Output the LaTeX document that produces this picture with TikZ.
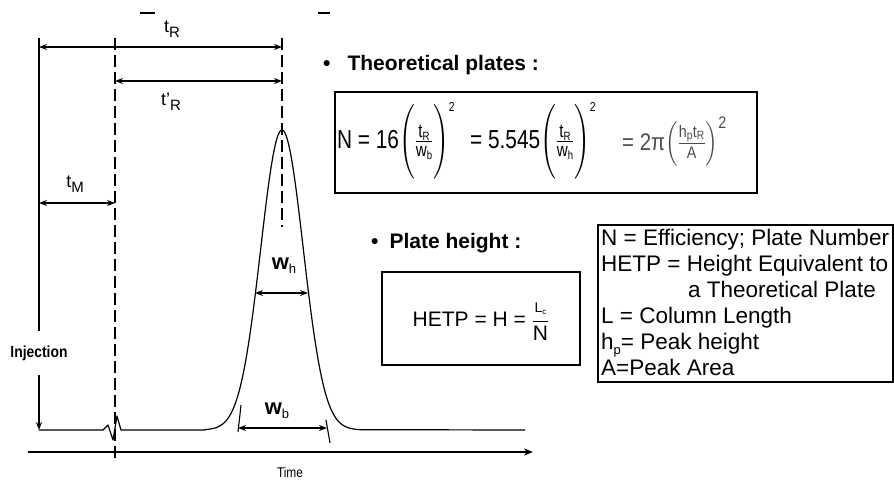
\documentclass[tikz,border=0pt]{standalone}
\usepackage{fontspec}
\setmainfont{Liberation Sans}
\usepackage{amsmath}
\usetikzlibrary{arrows.meta, positioning, calc}
\tikzset{
  dimarr/.style={{Stealth[length=8pt,width=6pt]}-{Stealth[length=8pt,width=6pt]}, line width=1.2pt},
  axisarr/.style={-{Stealth[length=9pt,width=7pt]}, line width=1.8pt},
  trace/.style={line width=1.2pt, line join=round},
  guide/.style={line width=1.1pt},
  dashguide/.style={line width=1.3pt, dash pattern=on 12pt off 5pt},
  tlbl/.style={inner sep=0pt, font=\fontsize{18}{18}\selectfont},
  wlbl/.style={inner sep=0pt, font=\fontsize{22}{22}\selectfont\bfseries},
  head/.style={inner sep=0pt, anchor=base west, font=\fontsize{21}{21}\selectfont\bfseries},
  eqbox/.style={draw, line width=1.5pt, inner sep=0pt},
  eqtxt/.style={inner sep=0pt, anchor=base west, font=\fontsize{26}{30}\selectfont},
  keytxt/.style={inner sep=0pt, anchor=base west, font=\fontsize{22.5}{26}\selectfont},
}
\newcommand{\tsub}[2]{#1\raisebox{-5pt}{\fontsize{15}{15}\selectfont #2}}
\newcommand{\wsub}[2]{#1\raisebox{-4pt}{\fontsize{13}{13}\selectfont\mdseries #2}}
\newcommand{\fpart}[2]{\text{\fontsize{19}{19}\selectfont #1\raisebox{-3pt}{\fontsize{12}{12}\selectfont #2}}}

\begin{document}
\begin{tikzpicture}[x=1pt, y=-1pt]
  \useasboundingbox (0,0) rectangle (894,480);
  %% Chromatogram
  \coordinate (inj0) at (39,38);
  \coordinate (inj1) at (39,430);
  \coordinate (tm0)  at (115,38);
  \coordinate (tm1)  at (115,458);
  \coordinate (pk0)  at (282,38);
  \coordinate (pk1)  at (282,227);
  \coordinate (base1) at (525,430);
  \coordinate (ax0) at (28,452);
  \coordinate (ax1) at (533,452);
  \node[inner ysep=14pt, inner xsep=0pt, font=\fontsize{16}{16}\selectfont\bfseries]
    (injtxt) at (39,353) {\scalebox{0.87}[1]{Injection}};
  \draw[guide] (inj0) -- (injtxt.north);
  \draw[guide, -{Stealth[length=8pt,width=6pt]}] (injtxt.south) -- (inj1);
  \draw[dashguide] (tm0) -- (tm1);
  \draw[dashguide] (pk0) -- (pk1);
  \draw[trace] (inj1) -- (103,430) -- (108,425) -- (113,440) -- (117,416) -- (121,430) -- (205,430)
    -- plot[domain=205:360, samples=90] (\x,{430-300*exp(-((\x-282)^2)/899)}) -- (base1);
  \draw[axisarr] (ax0) -- (ax1);
  \node[inner sep=0pt, font=\fontsize{14}{14}\selectfont] (time) at (290,472) {\scalebox{0.85}[1]{Time}};
  %% retention arrows
  \coordinate (tra) at (39,47);   \coordinate (trb) at (282,47);
  \coordinate (tpa) at (115,81);  \coordinate (tpb) at (282,81);
  \coordinate (tma) at (39,203);  \coordinate (tmb) at (115,203);
  \coordinate (wha) at (255,293); \coordinate (whb) at (308,293);
  \coordinate (wba) at (238,428); \coordinate (wbb) at (327,428);
  \foreach \a/\b in {tra/trb,tpa/tpb,tma/tmb,wha/whb,wba/wbb}
    \draw[dimarr] (\a) -- (\b);
  \draw[guide] (241,405) -- (238,432);
  \draw[guide] (326,420) -- (330,443);
  \draw[guide] (140,13) -- (155,13);
  \draw[guide] (318,13) -- (330,13);
  \node[tlbl] (trlbl) at (172,29)  {\tsub{t}{R}};
  \node[tlbl] (tplbl) at (171,102) {\tsub{t'}{R}};
  \node[tlbl] (tmlbl) at (75,184)  {\tsub{t}{M}};
  \node[wlbl] (whlbl) at (284,266) {\wsub{w}{h}};
  \node[wlbl] (wblbl) at (277,411) {\wsub{w}{b}};
  %% Theoretical plates
  \node[head] (thead) at (323,70) {•\hspace{17pt}Theoretical plates :};
  \node[eqbox, minimum width=422pt, minimum height=101pt] (platebox) at (546,142.5) {};
  \node[eqtxt] (eqa) at (337,148)
    {\scalebox{0.8}[1]{$\text{N = 16}\Biggl(\frac{\fpart{t}{R}}{\fpart{w}{b}}\Biggr)^{\scriptscriptstyle\text{2}}$}};
  \node[eqtxt] (eqb) at (470,148)
    {\scalebox{0.8}[1]{$\text{= 5.545}\Biggl(\frac{\fpart{t}{R}}{\fpart{w}{h}}\Biggr)^{\scriptscriptstyle\text{2}}$}};
  \node[eqtxt, text=black!70, font=\fontsize{24}{28}\selectfont] (eqc) at (622,150)
    {\scalebox{0.85}[1]{$\text{= 2π}\Bigl(\frac{\text{h}_{\text{p}}\text{t}_{\text{R}}}{\text{A}}\Bigr)^{\text{2}}$}};
  %% Plate height
  \node[head] (phead) at (371,248) {•\hspace{11pt}Plate height :};
  \node[eqbox, line width=2.5pt, minimum width=198pt, minimum height=93pt] (hetpbox) at (481,318.5) {};
  \node[eqtxt, anchor=center, font=\fontsize{21}{25}\selectfont] (hetp) at (481,322)
    {$\text{HETP = H = }\dfrac{\text{\fontsize{14}{14}\selectfont L\raisebox{-2pt}{\fontsize{8}{8}\selectfont c}}}{\text{N}}$};
  %% key
  \node[eqbox, line width=1.2pt, minimum width=295pt, minimum height=157pt] (keybox) at (745.5,303.5) {};
  \foreach \y/\t [count=\i] in {245/{N = Efficiency; Plate Number}, 271/{HETP = Height Equivalent to},
      323/{L = Column Length}, 349/{h\raisebox{-5pt}{\fontsize{13}{13}\selectfont p}= Peak height}, 375/{A=Peak Area}}
    \node[keytxt] (key\i) at (601,\y) {\t};
  \node[keytxt] (key6) at (688,297) {a Theoretical Plate};
\end{tikzpicture}
\end{document}
